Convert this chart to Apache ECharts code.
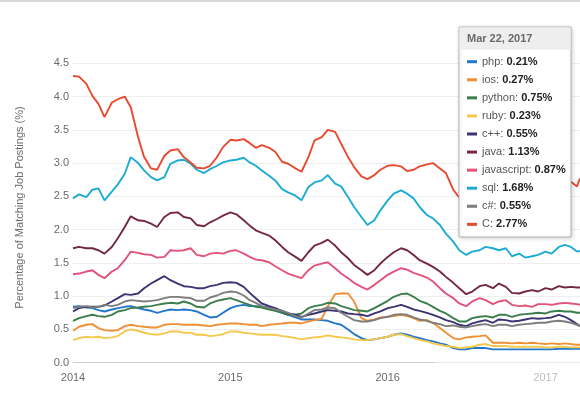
<!DOCTYPE html>
<html>
<head>
<meta charset="utf-8">
<script src="https://cdn.jsdelivr.net/npm/echarts@6/dist/echarts.min.js"></script>
<style>
html,body{margin:0;padding:0;background:#fff;}
#chart{width:580px;height:395px;}
</style>
</head>
<body>
<div id="chart"></div>
<script>
const dates = [
'2014-01-01','2014-01-15','2014-02-01','2014-02-15','2014-03-01','2014-03-15','2014-04-01','2014-04-15','2014-05-01','2014-05-15','2014-06-01','2014-06-15',
'2014-07-01','2014-07-15','2014-08-01','2014-08-15','2014-09-01','2014-09-15','2014-10-01','2014-10-15','2014-11-01','2014-11-15','2014-12-01','2014-12-15',
'2015-01-01','2015-01-15','2015-02-01','2015-02-15','2015-03-01','2015-03-15','2015-04-01','2015-04-15','2015-05-01','2015-05-15','2015-06-01','2015-06-15',
'2015-07-01','2015-07-15','2015-08-01','2015-08-15','2015-09-01','2015-09-15','2015-10-01','2015-10-15','2015-11-01','2015-11-15','2015-12-01','2015-12-15',
'2016-01-01','2016-01-15','2016-02-01','2016-02-15','2016-03-01','2016-03-15','2016-04-01','2016-04-15','2016-05-01','2016-05-15','2016-06-01','2016-06-15',
'2016-07-01','2016-07-15','2016-08-01','2016-08-15','2016-09-01','2016-09-15','2016-10-01','2016-10-15','2016-11-01','2016-11-15','2016-12-01','2016-12-15',
'2017-01-01','2017-01-15','2017-02-01','2017-02-15','2017-03-01','2017-03-15','2017-03-22'
];

const php = [
0.84,0.85,0.83,0.82,0.79,0.77,0.80,0.82,0.84,0.85,0.82,0.80,0.78,0.75,0.78,0.80,0.79,0.80,0.79,0.77,0.72,0.68,0.69,0.75,
0.82,0.85,0.87,0.85,0.85,0.84,0.83,0.79,0.75,0.72,0.68,0.65,0.65,0.65,0.64,0.63,0.59,0.57,0.50,0.43,0.37,0.34,0.35,0.37,
0.39,0.42,0.44,0.42,0.39,0.37,0.34,0.32,0.29,0.27,0.22,0.20,0.20,0.22,0.22,0.22,0.20,0.20,0.20,0.20,0.20,0.20,0.20,0.20,
0.20,0.20,0.21,0.21,0.21,0.21,0.21
];
const ios = [
0.48,0.54,0.57,0.58,0.52,0.49,0.48,0.49,0.55,0.57,0.55,0.54,0.53,0.53,0.57,0.58,0.58,0.57,0.57,0.57,0.56,0.55,0.57,0.58,
0.59,0.59,0.58,0.57,0.57,0.55,0.57,0.58,0.59,0.60,0.60,0.59,0.62,0.64,0.66,0.85,1.03,1.04,1.04,0.92,0.67,0.63,0.65,0.68,
0.69,0.70,0.72,0.70,0.67,0.63,0.64,0.60,0.52,0.45,0.37,0.35,0.38,0.39,0.40,0.41,0.30,0.30,0.30,0.29,0.30,0.29,0.30,0.29,
0.28,0.29,0.28,0.29,0.28,0.27,0.27
];
const python = [
0.63,0.67,0.70,0.72,0.70,0.69,0.72,0.77,0.79,0.82,0.83,0.84,0.85,0.87,0.89,0.90,0.89,0.92,0.89,0.84,0.83,0.89,0.93,0.95,
0.97,0.94,0.90,0.87,0.84,0.83,0.80,0.78,0.75,0.72,0.72,0.74,0.82,0.85,0.87,0.90,0.89,0.85,0.82,0.79,0.78,0.77,0.82,0.87,
0.93,0.99,1.03,1.04,0.99,0.93,0.89,0.84,0.78,0.74,0.67,0.62,0.62,0.67,0.69,0.70,0.68,0.72,0.72,0.69,0.72,0.73,0.74,0.75,
0.74,0.77,0.78,0.77,0.77,0.75,0.75
];
const ruby = [
0.34,0.37,0.39,0.38,0.39,0.37,0.38,0.40,0.47,0.50,0.48,0.45,0.43,0.42,0.44,0.47,0.47,0.45,0.45,0.42,0.42,0.40,0.41,0.43,
0.47,0.47,0.45,0.44,0.43,0.42,0.42,0.42,0.40,0.39,0.37,0.35,0.37,0.38,0.39,0.41,0.39,0.38,0.37,0.35,0.34,0.34,0.35,0.37,
0.39,0.42,0.43,0.40,0.37,0.34,0.32,0.29,0.27,0.25,0.24,0.22,0.23,0.24,0.27,0.28,0.25,0.25,0.25,0.24,0.24,0.24,0.24,0.24,
0.23,0.23,0.24,0.24,0.23,0.23,0.23
];
const cpp = [
0.77,0.82,0.84,0.84,0.84,0.86,0.92,0.97,1.03,1.02,1.04,1.12,1.19,1.24,1.30,1.24,1.19,1.15,1.14,1.12,1.12,1.15,1.17,1.20,
1.21,1.20,1.14,1.05,0.97,0.89,0.85,0.82,0.78,0.74,0.72,0.69,0.72,0.74,0.77,0.79,0.78,0.77,0.74,0.73,0.72,0.70,0.74,0.77,
0.82,0.84,0.87,0.84,0.80,0.78,0.75,0.72,0.68,0.64,0.61,0.57,0.55,0.59,0.62,0.64,0.60,0.65,0.64,0.62,0.63,0.65,0.67,0.66,
0.67,0.68,0.72,0.69,0.64,0.58,0.55
];
const java = [
1.72,1.74,1.72,1.72,1.69,1.64,1.74,1.87,2.04,2.20,2.14,2.13,2.09,2.04,2.19,2.25,2.26,2.19,2.17,2.07,2.05,2.11,2.16,2.21,
2.26,2.23,2.14,2.06,1.99,1.95,1.91,1.84,1.74,1.66,1.59,1.53,1.66,1.76,1.80,1.85,1.76,1.66,1.57,1.47,1.39,1.32,1.39,1.49,
1.59,1.66,1.72,1.69,1.62,1.54,1.49,1.44,1.37,1.29,1.20,1.12,1.03,1.07,1.15,1.17,1.12,1.19,1.14,1.05,1.04,1.07,1.09,1.07,
1.12,1.10,1.15,1.13,1.14,1.13,1.13
];
const javascript = [
1.33,1.34,1.37,1.39,1.32,1.27,1.37,1.42,1.54,1.67,1.65,1.63,1.62,1.58,1.59,1.69,1.68,1.69,1.72,1.62,1.60,1.64,1.65,1.64,
1.68,1.69,1.64,1.59,1.55,1.54,1.51,1.45,1.39,1.34,1.30,1.27,1.39,1.46,1.49,1.51,1.42,1.34,1.27,1.20,1.14,1.10,1.17,1.24,
1.32,1.37,1.42,1.40,1.35,1.32,1.28,1.22,1.12,1.04,0.97,0.89,0.85,0.92,0.97,0.94,0.88,0.92,0.94,0.87,0.85,0.86,0.84,0.88,
0.88,0.87,0.89,0.90,0.89,0.88,0.87
];
const sql = [
2.47,2.53,2.49,2.60,2.62,2.44,2.57,2.68,2.84,3.09,3.00,2.89,2.79,2.74,2.79,2.99,3.04,3.05,2.99,2.90,2.85,2.91,2.96,3.01,
3.04,3.05,3.08,3.01,2.96,2.89,2.81,2.74,2.61,2.56,2.51,2.44,2.64,2.71,2.74,2.82,2.69,2.65,2.49,2.34,2.19,2.07,2.14,2.29,
2.44,2.54,2.59,2.54,2.47,2.34,2.22,2.17,2.07,1.94,1.82,1.69,1.62,1.67,1.69,1.74,1.72,1.69,1.72,1.60,1.64,1.58,1.60,1.62,
1.67,1.64,1.74,1.77,1.74,1.67,1.68
];
const csharp = [
0.82,0.84,0.85,0.83,0.84,0.87,0.85,0.87,0.92,0.94,0.93,0.92,0.93,0.94,0.97,0.99,0.99,0.98,0.97,0.93,0.93,0.98,1.01,1.05,
1.07,1.06,1.01,0.94,0.90,0.85,0.82,0.80,0.78,0.75,0.70,0.68,0.74,0.79,0.80,0.83,0.82,0.75,0.69,0.64,0.62,0.62,0.64,0.67,
0.69,0.72,0.73,0.72,0.68,0.65,0.63,0.60,0.58,0.55,0.56,0.54,0.53,0.55,0.57,0.58,0.55,0.57,0.57,0.55,0.57,0.58,0.59,0.60,
0.60,0.62,0.63,0.62,0.60,0.57,0.55
];
const C = [
4.31,4.30,4.19,4.01,3.89,3.69,3.91,3.96,4.00,3.84,3.39,3.09,2.92,2.90,3.11,3.19,3.21,3.09,3.01,2.93,2.92,2.96,3.09,3.24,
3.35,3.34,3.36,3.30,3.23,3.27,3.23,3.17,3.02,2.99,2.92,2.87,3.09,3.34,3.39,3.50,3.47,3.29,3.09,2.94,2.80,2.76,2.82,2.90,
2.96,2.97,2.95,2.88,2.90,2.95,2.98,3.00,2.92,2.85,2.60,2.48,2.42,2.45,2.55,2.60,2.58,2.62,2.66,2.60,2.55,2.60,2.65,2.60,
2.68,2.70,2.66,2.70,2.72,2.65,2.77
];

const seriesNames = ['php','ios','python','ruby','c++','java','javascript','sql','c#','C'];
const seriesValues = [php, ios, python, ruby, cpp, java, javascript, sql, csharp, C];
const seriesColors = ['#2277cc','#ee9033','#3b7d4c','#f4c84a','#3a3572','#74283f','#e2527b','#1cacd3','#7d7d7d','#e9492f'];
const tooltipTitle = 'Mar 22, 2017';
const yAxisTitle = 'Percentage of Matching Job Postings (%)';

const FONT = '"Liberation Sans", Arial, Helvetica, sans-serif';
const chart = echarts.init(document.getElementById('chart'), null, {renderer: 'canvas'});

const series = seriesNames.map((name, i) => ({
  name: name,
  type: 'line',
  data: dates.map((d, j) => [d, seriesValues[i][j]]),
  showSymbol: false,
  symbol: 'none',
  lineStyle: {width: 1.9, color: seriesColors[i]},
  itemStyle: {color: seriesColors[i]},
  emphasis: {disabled: true},
  animation: false
}));

// tooltip-like panel built from the data
const panelX = 459, panelY = 27, panelW = 112, panelH = 210;
const panelChildren = [
  {type: 'rect', z: 100, shape: {x: panelX, y: panelY, width: panelW, height: panelH},
   style: {fill: '#fff', stroke: '#b4b4b4', lineWidth: 1, shadowBlur: 4, shadowColor: 'rgba(0,0,0,0.18)', shadowOffsetX: 1, shadowOffsetY: 1}},
  {type: 'rect', z: 101, shape: {x: panelX + 0.5, y: panelY + 0.5, width: panelW - 1, height: 22},
   style: {fill: '#eeeeee'}},
  {type: 'text', z: 102, x: panelX + 8, y: panelY + 12,
   style: {text: tooltipTitle, fill: '#6a6a6a', font: 'bold 11px ' + FONT, verticalAlign: 'middle'}}
];
seriesNames.forEach((name, i) => {
  const vals = seriesValues[i];
  const cy = panelY + 34.7 + i * 18.07;
  panelChildren.push({type: 'rect', z: 102, shape: {x: panelX + 8, y: cy - 1.5, width: 10, height: 3},
    style: {fill: seriesColors[i]}});
  panelChildren.push({type: 'text', z: 102, x: panelX + 23, y: cy,
    style: {
      text: '{n|' + name + ': }{v|' + vals[vals.length - 1].toFixed(2) + '%}',
      verticalAlign: 'middle',
      rich: {
        n: {fill: '#555', fontSize: 11, fontFamily: FONT},
        v: {fill: '#222', fontSize: 11, fontWeight: 'bold', fontFamily: FONT}
      }
    }});
});

chart.setOption({
  animation: false,
  backgroundColor: '#fff',
  textStyle: {fontFamily: FONT},
  grid: {left: 73, right: -2, top: 63.3, bottom: 32.3, containLabel: false},
  xAxis: {
    type: 'time',
    min: '2014-01-01',
    max: '2017-03-22',
    minInterval: 365 * 86400000,
    maxInterval: 366 * 86400000,
    axisLine: {show: true, lineStyle: {color: '#cfcfcf', width: 1}},
    axisTick: {show: false},
    splitLine: {show: false},
    axisLabel: {formatter: '{yyyy}', color: '#6b6b6b', fontSize: 11, margin: 10, fontFamily: FONT, showMaxLabel: false}
  },
  yAxis: {
    type: 'value',
    min: 0,
    max: 4.5,
    interval: 0.5,
    axisLine: {show: false},
    axisTick: {show: false},
    splitLine: {lineStyle: {color: '#eeeeee', width: 1}},
    axisLabel: {formatter: v => v.toFixed(1), color: '#6b6b6b', fontSize: 11, margin: 4, fontFamily: FONT}
  },
  series: series,
  graphic: [
    {type: 'rect', z: 90, shape: {x: 0, y: 0, width: 580, height: 2}, style: {fill: '#d9d9d9'}},
    {type: 'text', z: 90, x: 20, y: 207.5, rotation: Math.PI / 2,
     style: {text: yAxisTitle, fill: '#6b6b6b', font: '11px ' + FONT, align: 'center', verticalAlign: 'middle'}},
    {type: 'rect', z: 90, shape: {x: 436, y: 357, width: 150, height: 40}, style: {fill: 'rgba(255,255,255,0.55)'}},
    {type: 'group', children: panelChildren}
  ]
});
</script>
</body>
</html>
